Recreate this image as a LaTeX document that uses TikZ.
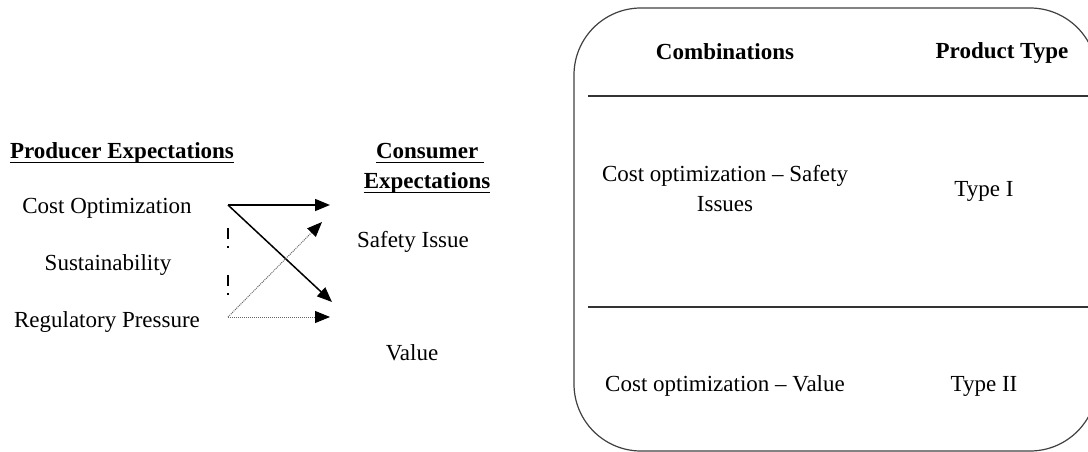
\documentclass[tikz,border=0pt]{standalone}
\usepackage{fontspec}
\setmainfont{Liberation Serif}
\usepackage{tikz}
\usetikzlibrary{arrows.meta}

\begin{document}
\begin{tikzpicture}[x=1pt,y=-1pt,
    font=\fontsize{23}{30}\selectfont,
    txt/.style={anchor=base,inner sep=0pt,align=center},
    hd/.style={txt,font=\fontsize{23}{30}\selectfont\bfseries},
    ul/.style={line width=1.5pt},
    arr/.style={-{Triangle[length=15pt,width=12pt]},line width=1.5pt},
    dotarr/.style={-{Triangle[length=15pt,width=12pt,black]},draw=black!60,densely dotted,line width=1pt},
    gapmark/.style={line width=2pt,dash pattern=on 11pt off 7pt on 2pt off 27pt},
    tablebox/.style={rounded corners=67pt,line width=1.2pt,draw=black!75},
    rowline/.style={line width=1.5pt,draw=black!80}]
    \clip (0,0) rectangle (1088,452);

    % producer side
    \node[hd] (prod) at (122,158) {Producer Expectations};
    \node[txt] (cost) at (107,213) {Cost Optimization};
    \node[txt] (sust) at (108,270) {Sustainability};
    \node[txt] (reg) at (107,327) {Regulatory Pressure};
    \draw[ul] ([yshift=-4.5pt]prod.base west) -- ([yshift=-4.5pt]prod.base east);

    % consumer side
    \node[hd] (cons) at (430,158) {Consumer\ };
    \node[hd] (expc) at (427,188) {Expectations};
    \node[txt] (safe) at (413,247) {Safety Issue};
    \node[txt] (val) at (412,360) {Value};
    \draw[ul] ([yshift=-4.5pt]cons.base west) -- ([yshift=-4.5pt]cons.base east);
    \draw[ul] ([yshift=-4.5pt]expc.base west) -- ([yshift=-4.5pt]expc.base east);

    \coordinate (cost-out) at (228,205);
    \coordinate (reg-out) at (228,317);
    \coordinate (safe-in) at (330,205);
    \coordinate (safe-in2) at (322,222);
    \coordinate (val-in) at (332,302);
    \coordinate (val-in2) at (330,317);

    \draw[arr] (cost-out) -- (safe-in);
    \draw[arr] (cost-out) -- (val-in);
    \draw[dotarr] (reg-out) -- (safe-in2);
    \draw[dotarr] (reg-out) -- (val-in2);
    \draw[gapmark,shorten <=23pt,shorten >=22pt] (cost-out) -- (reg-out);

    % combinations table
    \draw[tablebox] (574,8) rectangle (1097,451);
    \draw[rowline] (588,96) -- (1097,96);
    \draw[rowline] (588,307) -- (1097,307);
    \node[hd] (comb) at (725,60) {Combinations};
    \node[hd] (ptype) at (1002,59) {Product Type};
    \node[txt] (row1) at (725,211) {Cost optimization – Safety\\Issues};
    \node[txt] (type1) at (984,196) {Type I};
    \node[txt] (row2) at (725,391) {Cost optimization – Value};
    \node[txt] (type2) at (984,391) {Type II};
\end{tikzpicture}
\end{document}
